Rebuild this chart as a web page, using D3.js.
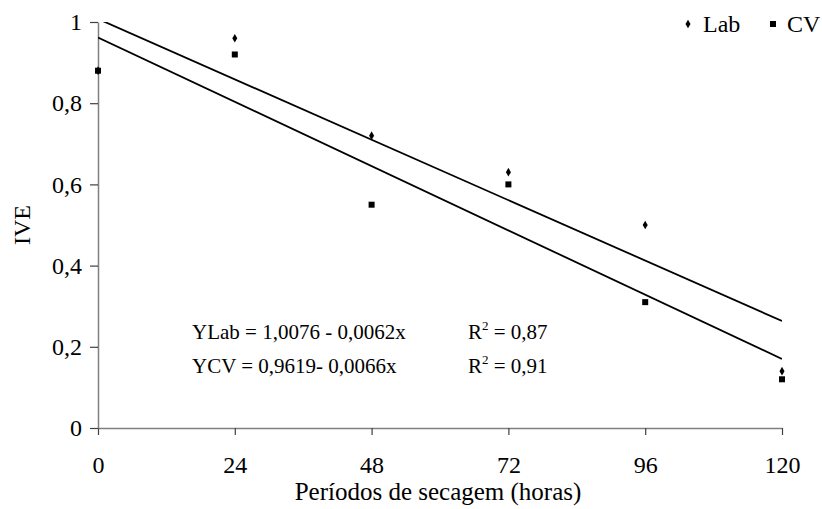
<!DOCTYPE html>
<html>
<head>
<meta charset="utf-8">
<script src="https://cdn.jsdelivr.net/npm/d3@7"></script>
<style>
  body { margin: 0; background: #fff; }
  text { font-family: "Liberation Serif", "Times New Roman", serif; fill: #000; }
</style>
</head>
<body>
<div id="chart"></div>
<script>
// data
var hours = [0, 24, 48, 72, 96, 120];
var labValues = [0.88, 0.96, 0.72, 0.63, 0.50, 0.14];
var cvValues = [0.88, 0.92, 0.55, 0.60, 0.31, 0.12];
var labFit = {a: 1.0076, b: -0.0062};
var cvFit = {a: 0.9619, b: -0.0066};
var yTicks = [0, 0.2, 0.4, 0.6, 0.8, 1];
var eqLines = [
    {eq: "YLab = 1,0076 - 0,0062x", r2: "0,87"},
    {eq: "YCV = 0,9619- 0,0066x", r2: "0,91"}
];

var margin = {top: 22, right: 40, bottom: 81, left: 98};
var W = 822, H = 509;
var width = W - margin.left - margin.right;
var height = H - margin.top - margin.bottom;

var svg = d3.select("#chart")
    .append("svg")
    .attr("width", W)
    .attr("height", H)
    .append("g")
    .attr("transform", "translate(" + margin.left + "," + margin.top + ")");

var x = d3.scaleLinear().domain([0, 120]).range([0, width]);
var y = d3.scaleLinear().domain([0, 1]).range([height, 0]);

svg.append("clipPath").attr("id", "plotclip")
    .append("rect").attr("width", width).attr("height", height);

// axes
var xAxis = svg.append("g")
    .attr("transform", "translate(0," + height + ")")
    .call(d3.axisBottom(x).tickValues(hours).tickSize(7).tickSizeOuter(0).tickPadding(21));
var yAxis = svg.append("g")
    .call(d3.axisLeft(y).tickValues(yTicks).tickSize(8).tickSizeOuter(0).tickPadding(8)
        .tickFormat(function(d) { return d == 0 || d == 1 ? d3.format("d")(d) : d3.format(".1f")(d).replace(".", ","); }));

[xAxis, yAxis].forEach(function(a) {
    a.attr("font-family", null).attr("font-size", null);
    a.select(".domain").attr("stroke", "#808080").attr("stroke-width", 1.5);
    a.selectAll(".tick line").attr("stroke", "#404040").attr("stroke-width", 1.2);
    a.selectAll(".tick text").style("font-size", "24px").attr("fill", "#000");
});

// regression lines
function fitLine(f) {
    return d3.line()
        .x(function(d) { return x(d); })
        .y(function(d) { return y(f.a + f.b * d); });
}
[labFit, cvFit].forEach(function(f) {
    svg.append("path")
        .datum([0, 120])
        .attr("clip-path", "url(#plotclip)")
        .attr("fill", "none")
        .attr("stroke", "#000")
        .attr("stroke-width", 1.8)
        .attr("d", fitLine(f));
});

// points
var diamond = d3.symbol().type(d3.symbolDiamond).size(22);
svg.selectAll(".lab")
    .data(hours)
    .enter().append("path")
    .attr("class", "lab")
    .attr("transform", function(d, i) { return "translate(" + x(d) + "," + y(labValues[i]) + ")"; })
    .attr("d", diamond)
    .attr("fill", "#000");
svg.selectAll(".cv")
    .data(hours)
    .enter().append("rect")
    .attr("class", "cv")
    .attr("x", function(d) { return x(d) - 3; })
    .attr("y", function(d, i) { return y(cvValues[i]) - 3; })
    .attr("width", 6)
    .attr("height", 6)
    .attr("fill", "#000");

// equations
var eq = svg.append("g").attr("transform", "translate(94,317)");
eqLines.forEach(function(l, i) {
    eq.append("text").attr("x", 0).attr("y", i * 34)
        .style("font-size", "21px").text(l.eq);
    var r = eq.append("text").attr("x", 276).attr("y", i * 34).style("font-size", "21px");
    r.append("tspan").text("R");
    r.append("tspan").attr("dy", -9).style("font-size", "13px").text("2");
    r.append("tspan").attr("dy", 9).text(" = " + l.r2);
});

// legend
var leg = svg.append("g").attr("transform", "translate(590,2)");
leg.append("path").attr("d", diamond).attr("fill", "#000");
leg.append("text").attr("x", 15).attr("y", 8).style("font-size", "24px").text("Lab");
leg.append("rect").attr("x", 82).attr("y", -3).attr("width", 6).attr("height", 6).attr("fill", "#000");
leg.append("text").attr("x", 99).attr("y", 8).style("font-size", "24px").text("CV");

// axis titles
svg.append("text")
    .attr("x", width / 2 - 2)
    .attr("y", height + 72)
    .attr("text-anchor", "middle")
    .style("font-size", "25px")
    .text("Períodos de secagem (horas)");
svg.append("text")
    .attr("transform", "translate(-68," + (height / 2) + ") rotate(-90)")
    .attr("text-anchor", "middle")
    .style("font-size", "24px")
    .text("IVE");
</script>
</body>
</html>
